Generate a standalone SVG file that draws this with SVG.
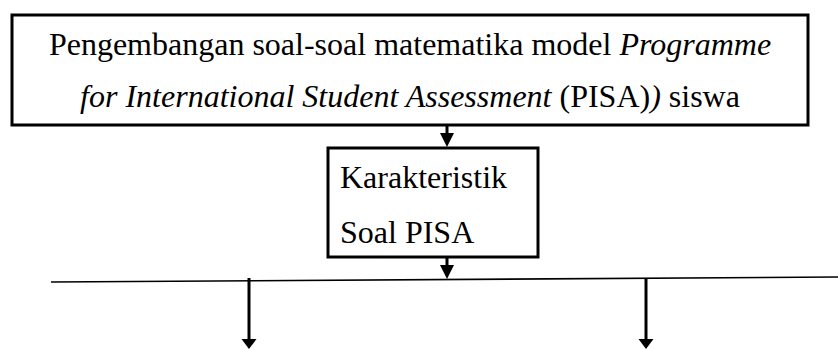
<svg xmlns="http://www.w3.org/2000/svg" width="838" height="349" viewBox="0 0 838 349">
<style>
.box{fill:#fff;stroke:#000;stroke-width:3}
text{font-family:'Liberation Serif','Times New Roman',Times,serif;font-size:32px;fill:#000}
.i{font-style:italic}
.c{stroke:#000;stroke-width:3;fill:none}
.h{fill:#000;stroke:none}
</style>
<rect width="838" height="349" fill="#fff"/>
<g id="node-pengembangan">
<rect class="box" x="12" y="15" width="796" height="110"/>
<text font-family="Liberation Serif, serif" x="410" y="55" text-anchor="middle">Pengembangan soal-soal matematika model <tspan class="i">Programme</tspan></text>
<text font-family="Liberation Serif, serif" x="410" y="107" text-anchor="middle"><tspan class="i">for International Student Assessment</tspan> (PISA)<tspan class="i">)</tspan> siswa</text>
</g>
<g id="node-karakteristik">
<rect class="box" x="328" y="148" width="210" height="109"/>
<text font-family="Liberation Serif, serif" x="340" y="188">Karakteristik</text>
<text font-family="Liberation Serif, serif" x="340" y="243">Soal PISA</text>
</g>
<g id="connectors">
<line class="c" x1="447" y1="125" x2="447" y2="134" stroke-width="2"/>
<polygon class="h" points="440,133 454,133 447,147"/>
<line class="c" x1="447" y1="257" x2="447" y2="266" stroke-width="2"/>
<polygon class="h" points="440,265 454,265 447,279"/>
<line x1="51" y1="282" x2="838" y2="277" stroke="#000" stroke-width="1.6"/>
<line class="c" x1="249" y1="278" x2="249" y2="340"/>
<polygon class="h" points="241.5,339 256.5,339 249,349"/>
<line class="c" x1="646" y1="278" x2="646" y2="340"/>
<polygon class="h" points="638.5,339 653.5,339 646,349"/>
</g>
</svg>
